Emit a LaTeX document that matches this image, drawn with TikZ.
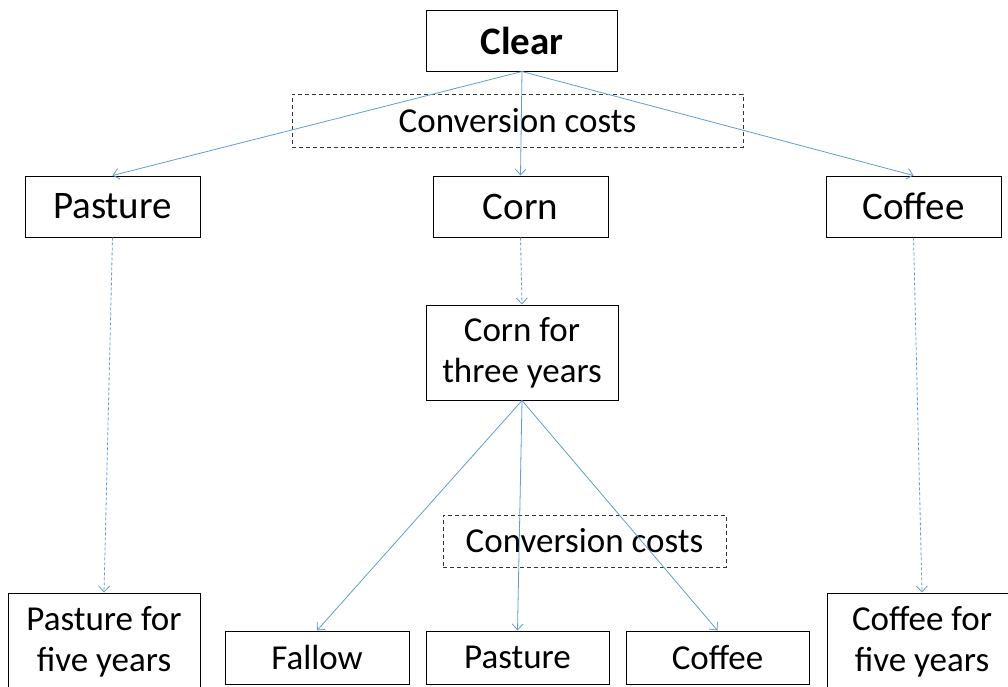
\documentclass[tikz,border=0pt]{standalone}
\usepackage{fontspec}
\setmainfont{Carlito}
\usetikzlibrary{arrows.meta}
\definecolor{lineblue}{RGB}{98,156,214}
\tikzset{
  box/.style={draw=black, line width=1pt, rectangle, align=center, inner sep=0pt},
  big/.style={font=\fontsize{39}{47}\selectfont},
  small/.style={font=\fontsize{35}{41}\selectfont},
  costbox/.style={draw=black!80, dash pattern=on 4pt off 3pt, line width=1pt, rectangle, inner sep=0pt, font=\fontsize{35}{41}\selectfont},
  conn/.style={draw=lineblue, line width=0.8pt, -{Straight Barb[length=6pt,width=11pt]}},
  dconn/.style={conn, dash pattern=on 3pt off 2pt},
}
\begin{document}
\begin{tikzpicture}[x=1pt,y=-1pt]
\clip (0,0) rectangle (1008,686);
\fill[white] (0,0) rectangle (1008,686);
% conversion cost boxes
\node[costbox, minimum width=451pt, minimum height=53pt] (cc1) at (517.5,120.5) {Conversion costs};
\node[costbox, minimum width=283pt, minimum height=52pt] (cc2) at (584.5,541) {Conversion costs};
% nodes
\node[box, big, minimum width=191pt, minimum height=61pt, font=\fontsize{39}{47}\selectfont\bfseries] (clear) at (522,40.5) {Clear};
\node[box, big, minimum width=175pt, minimum height=61pt] (pasture) at (112.5,206.5) {Pasture};
\node[box, big, minimum width=175pt, minimum height=61pt] (corn) at (520.5,206.5) {Corn};
\node[box, big, minimum width=175pt, minimum height=61pt] (coffee) at (913.5,206.5) {Coffee};
\node[box, small, minimum width=192pt, minimum height=95pt] (corn3) at (522,352.5) {Corn for\\three years};
\node[box, small, minimum width=192pt, minimum height=98pt] (pasture5) at (104,642) {Pasture for\\five years};
\node[box, small, minimum width=190pt, minimum height=98pt] (coffee5) at (922,642) {Coffee for\\five years};
\node[box, small, minimum width=184pt, minimum height=53pt] (fallow) at (317,657.5) {Fallow};
\node[box, small, minimum width=183pt, minimum height=53pt] (pasture2) at (517.5,657.5) {Pasture};
\node[box, small, minimum width=183pt, minimum height=53pt] (coffee2) at (717.5,657.5) {Coffee};
% connectors
\draw[conn] (clear.south) -- (pasture.north);
\draw[conn] (clear.south) -- (corn.north);
\draw[conn] (clear.south) -- (coffee.north);
\draw[dconn] (pasture.south) -- (pasture5.north);
\draw[dconn] (corn.south) -- (corn3.north);
\draw[dconn] (coffee.south) -- (coffee5.north);
\draw[conn] (corn3.south) -- (fallow.north);
\draw[conn] (corn3.south) -- (pasture2.north);
\draw[conn] (corn3.south) -- (coffee2.north);
\end{tikzpicture}
\end{document}
